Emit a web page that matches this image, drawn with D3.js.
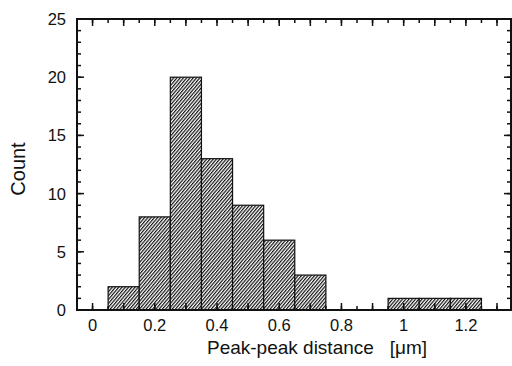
<!DOCTYPE html>
<html>
<head>
<meta charset="utf-8">
<script src="https://d3js.org/d3.v7.min.js"></script>
<style>
body { margin: 0; padding: 0; background: #fff; }
svg { display: block; font-family: "Liberation Sans", Arial, sans-serif; }
</style>
</head>
<body>
<div id="chart"></div>
<script>
// histogram bins: center of each bin (um) and count
var binCenters = [0.1, 0.2, 0.3, 0.4, 0.5, 0.6, 0.7, 1.0, 1.1, 1.2];
var counts     = [2, 8, 20, 13, 9, 6, 3, 1, 1, 1];
var binWidth = 0.1;
var xTickLabels = [0, 0.2, 0.4, 0.6, 0.8, 1, 1.2];
var yTickLabels = [0, 5, 10, 15, 20, 25];

var W = 512, H = 366;
var plotL = 77, plotR = 511, plotT = 19, plotB = 310;

var svg = d3.select('#chart').append('svg')
  .attr('width', W).attr('height', H);

var defs = svg.append('defs');
var pat = defs.append('pattern')
  .attr('id', 'hatch')
  .attr('patternUnits', 'userSpaceOnUse')
  .attr('width', 2.5).attr('height', 2.5)
  .attr('patternTransform', 'rotate(40)');
pat.append('rect').attr('width', 2.5).attr('height', 2.5).attr('fill', '#fff');
pat.append('line')
  .attr('x1', 0).attr('y1', 0).attr('x2', 0).attr('y2', 2.5)
  .attr('stroke', '#111').attr('stroke-width', 2.4);

var x = d3.scaleLinear().domain([-0.05, 1.345]).range([plotL, plotR]);
var y = d3.scaleLinear().domain([0, 25]).range([plotB, plotT]);

// bars
svg.append('g').selectAll('rect')
  .data(binCenters)
  .enter().append('rect')
  .attr('x', function(d) { return x(d - binWidth / 2); })
  .attr('width', function(d) { return x(d + binWidth / 2) - x(d - binWidth / 2); })
  .attr('y', function(d, i) { return y(counts[i]); })
  .attr('height', function(d, i) { return y(0) - y(counts[i]); })
  .attr('fill', 'url(#hatch)')
  .attr('stroke', '#111')
  .attr('stroke-width', 1.2);

// ticks (all pointing inward)
var minorX = d3.range(0, 1.3001, 0.05);
var majorX = d3.range(0, 1.3001, 0.1);
function tickX(g, vals, yy, len) {
  g.selectAll(null).data(vals).enter().append('line')
    .attr('x1', function(d) { return x(d); })
    .attr('x2', function(d) { return x(d); })
    .attr('y1', yy).attr('y2', yy + len)
    .attr('stroke', '#111').attr('stroke-width', 1.5);
}
var tg = svg.append('g');
tickX(tg, minorX, plotB, -4);
tickX(tg, majorX, plotB, -7);
tickX(tg, minorX, plotT, 4);
tickX(tg, majorX, plotT, 7);

var minorY = d3.range(0, 25, 1);
var majorY = d3.range(0, 26, 5);
function tickY(g, vals, xx, len) {
  g.selectAll(null).data(vals).enter().append('line')
    .attr('y1', function(d) { return y(d); })
    .attr('y2', function(d) { return y(d); })
    .attr('x1', xx).attr('x2', xx + len)
    .attr('stroke', '#111').attr('stroke-width', 1.5);
}
tickY(tg, minorY, plotL, 4);
tickY(tg, majorY, plotL, 7);
tickY(tg, minorY, plotR, -4);
tickY(tg, majorY, plotR, -7);

// frame
svg.append('rect')
  .attr('x', plotL).attr('y', plotT)
  .attr('width', plotR - plotL).attr('height', plotB - plotT)
  .attr('fill', 'none').attr('stroke', '#111').attr('stroke-width', 2);

// tick labels
svg.append('g').selectAll('text')
  .data(xTickLabels).enter().append('text')
  .attr('x', function(d) { return x(d); })
  .attr('y', 331)
  .attr('text-anchor', 'middle')
  .attr('font-size', 16.5)
  .attr('fill', '#111')
  .text(function(d) { return d; });

svg.append('g').selectAll('text')
  .data(yTickLabels).enter().append('text')
  .attr('x', 66)
  .attr('y', function(d) { return y(d) + 6; })
  .attr('text-anchor', 'end')
  .attr('font-size', 16.5)
  .attr('fill', '#111')
  .text(function(d) { return d; });

// axis titles
svg.append('text')
  .attr('x', 317).attr('y', 354)
  .attr('text-anchor', 'middle')
  .attr('font-size', 19)
  .attr('fill', '#111')
  .attr('xml:space', 'preserve')
  .text('Peak-peak distance   [\u03bcm]');

svg.append('text')
  .attr('transform', 'translate(25,169) rotate(-90)')
  .attr('text-anchor', 'middle')
  .attr('font-size', 20)
  .attr('fill', '#111')
  .text('Count');
</script>
</body>
</html>
